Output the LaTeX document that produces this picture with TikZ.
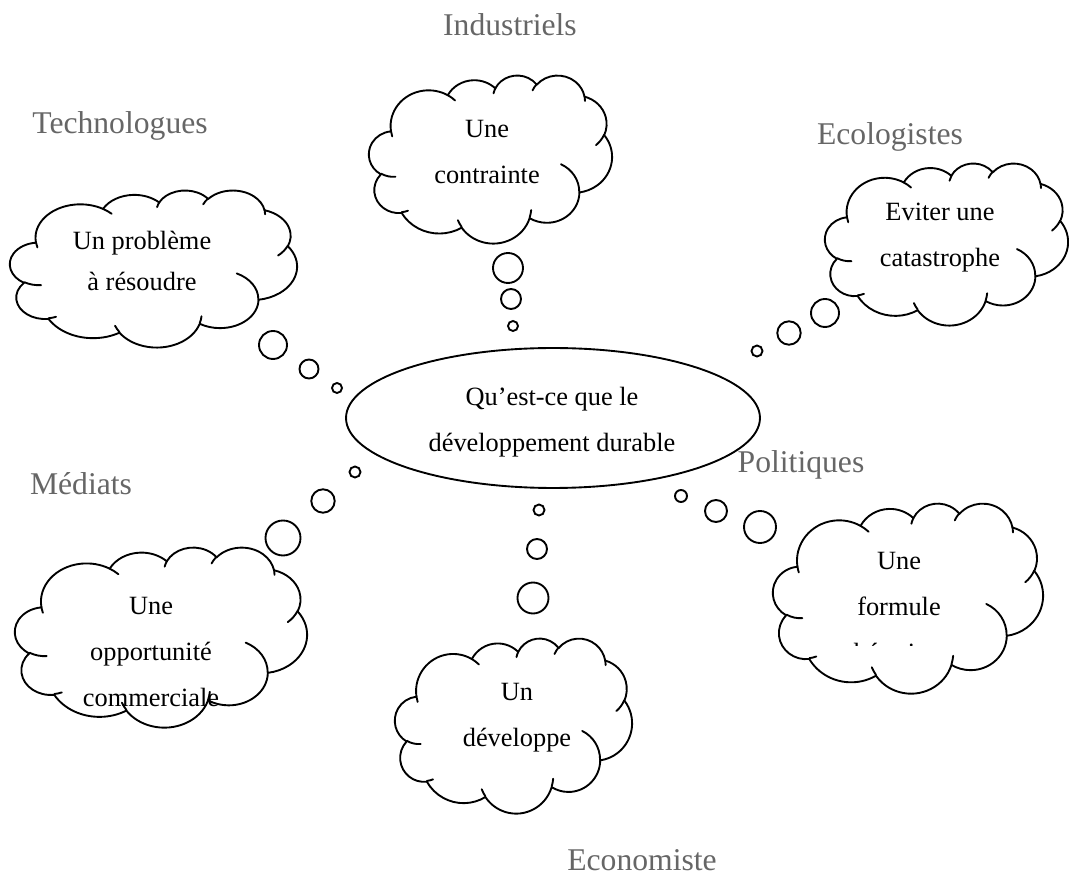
\documentclass[tikz,border=0pt]{standalone}
\usepackage{fontspec}
\setmainfont{Liberation Serif}
\usetikzlibrary{shapes.geometric}

\tikzset{
  declare function={vis(\ang,\ra,\rb)=\ang+mod(atan2(\ra*sin(\ang),\rb*cos(\ang))-\ang+540,360)-180;},
  cloudline/.style={black, line width=1pt, line cap=round, line join=round},
  bubble/.style={black, line width=1pt},
  actor/.style={black!60, anchor=base, font=\fontsize{16.8}{20}\selectfont},
  thought/.style={align=center, font=\fontsize{14}{24.4}\selectfont},
}

\begin{document}
\begin{tikzpicture}[x=0.01866cm, y=-0.01866cm]
  \useasboundingbox (0,0) rectangle (1069,886);

  % Cloud callout in a 43.2 x 43.2 box: left, top, width, height
  \def\cloud#1#2#3#4{%
    \begin{scope}[shift={(#1,#2)}, x={({#3/43.2},0)}, y={(0,{#4/43.2})}]
      \draw[cloudline] (3.9,14.37)
        \foreach \rx/\ry/\st/\sw in {6.753/9.19/-190.4875/123.7805, 5.333/7.267/-144.1024/89.9452,
          4.365/5.945/-145.8079/99.723, 4.857/6.595/-130.9861/117.2417, 5.333/7.273/-78.7089/109.0269,
          6.775/9.22/-46.2673/130.269, 5.785/7.867/0.625/114.0333, 6.752/9.215/22.4516/115.1726,
          7.72/10.543/66.2426/75.711, 4.36/5.918/-274.9421/146.7356, 4.345/5.945/-246.8285/152.5189}
        { arc[start angle={vis(\st,\rx,\ry)}, end angle={vis(\st+\sw,\rx,\ry)}, x radius=\rx, y radius=\ry] }
        -- cycle;
      % inner curls
      \foreach \px/\py/\rx/\ry/\st/\sw in {4.693/26.177/4.345/5.945/86.742/26.4295,
          6.928/34.899/4.36/5.918/73.6105/11.4475, 16.478/39.09/6.752/9.215/137.6242/14.0811,
          28.827/34.751/6.752/9.215/6.4533/15.9984, 34.129/22.954/5.785/7.867/-70.2924/70.9174,
          41.798/15.354/5.333/7.273/30.318/27.7515, 38.324/5.426/4.857/6.595/-13.7443/14.8589,
          29.078/3.952/4.857/6.595/-149.1815/18.1954, 22.141/4.72/4.365/5.945/-163.4943/17.6864,
          14/5.192/6.753/9.19/-66.707/12.3194, 4.127/15.789/6.753/9.19/157.6544/11.8582}
        \draw[cloudline] (\px,\py) arc[start angle={vis(\st,\rx,\ry)}, end angle={vis(\st+\sw,\rx,\ry)}, x radius=\rx, y radius=\ry];
    \end{scope}}

  % centre
  \node[draw, ellipse, line width=1pt, minimum width=7.725cm, minimum height=2.612cm, inner sep=0pt]
    (question) at (553,418) {};
  \node[thought] (question-text) at (552,422) {Qu’est-ce que le\\développement durable};

  % clouds
  \cloud{10}{190}{287}{157}
  \cloud{369}{75}{243}{168}
  \cloud{825}{163}{243}{162}
  \cloud{15}{547}{292}{180}
  \cloud{395}{638}{237}{175}
  \cloud{773}{503}{270}{190}

  % bubbles
  \foreach \cx/\cy/\r in {273/345/14, 309/369/9.5, 337/388/5,
      355/472/5.5, 323/501/11.7, 283/538/17.5,
      508/268/15, 511/299/10, 513/326/5,
      825/313/14, 789/333/11.7, 757/351/5.5,
      539/510/5.5, 537/549/10, 533/598/15.5,
      681/496/6, 716/511/11, 760/527/16}
    \draw[bubble] (\cx,\cy) circle[radius=\r];

  % thoughts
  \node[thought] (probleme) at (142,261) {Un problème\\[-3pt]à résoudre};
  \node[thought] (contrainte) at (487,152) {Une\\contrainte};
  \node[thought] (catastrophe) at (940,238) {Eviter une\\catastrophe};
  \node[thought] (opportunite) at (151,652) {Une\\opportunité\\commerciale};
  \node[thought] (developpe) at (517,718) {Un\\développe};
  \begin{scope}
    \clip (760,500) rectangle (1069,646);
    \node[thought] (formule) at (899,610) {Une\\formule\\rhétorique};
  \end{scope}

  % actors
  \node[actor] (industriels) at (510,36) {Industriels};
  \node[actor] (technologues) at (120,134) {Technologues};
  \node[actor] (ecologistes) at (890,145) {Ecologistes};
  \node[actor] (mediats) at (81,495) {Médiats};
  \node[actor] (politiques) at (801,473) {Politiques};
  \node[actor] (economiste) at (642,871) {Economiste};
\end{tikzpicture}
\end{document}
